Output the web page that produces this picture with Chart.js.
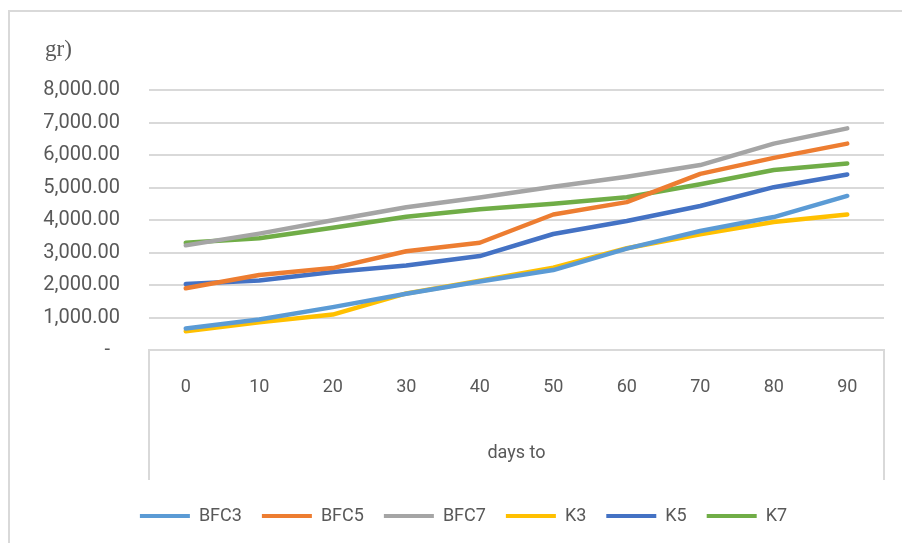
<!DOCTYPE html>
<html>
<head>
<meta charset="utf-8">
<title>Weight by days</title>
<script src="https://cdn.jsdelivr.net/npm/chart.js@4/dist/chart.umd.min.js"></script>
<style>
    html, body {
        margin: 0;
        padding: 0;
        background: #ffffff;
        overflow: hidden;
    }
    .frame {
        position: absolute;
        left: 8px;
        top: 10px;
        width: 1000px;
        height: 700px;
        border-left: 2px solid #d9d9d9;
        border-top: 2px solid #d9d9d9;
    }
    .chart-wrap {
        position: absolute;
        left: 0;
        top: 0;
        width: 902px;
        height: 543px;
    }
</style>
</head>
<body>
<div class="frame"></div>
<div class="chart-wrap">
    <canvas id="growthChart"></canvas>
</div>
<script>
// Chart data
const days = ['0', '10', '20', '30', '40', '50', '60', '70', '80', '90'];
const bfc3 = [660, 940, 1320, 1730, 2110, 2460, 3120, 3660, 4090, 4740];
const bfc5 = [1900, 2310, 2520, 3040, 3300, 4170, 4550, 5420, 5910, 6350];
const bfc7 = [3220, 3580, 3990, 4390, 4690, 5020, 5330, 5690, 6350, 6820];
const k3 = [580, 850, 1090, 1740, 2130, 2530, 3130, 3560, 3940, 4170];
const k5 = [2030, 2140, 2400, 2600, 2890, 3570, 3970, 4430, 5010, 5400];
const k7 = [3300, 3440, 3760, 4100, 4330, 4500, 4700, 5100, 5540, 5740];
const yTicks = [0, 1000, 2000, 3000, 4000, 5000, 6000, 7000, 8000];

const textColor = '#595959';
const gridColor = '#d9d9d9';

// Simple helper for each line
function series(label, data, color) {
    return {
        label: label,
        data: data,
        borderColor: color,
        backgroundColor: color,
        borderWidth: 4.5,
        borderCapStyle: 'round',
        borderJoinStyle: 'round',
        pointRadius: 0,
        tension: 0
    };
}

// Axis title "gr)" above the value labels
const unitLabel = {
    id: 'unitLabel',
    afterDraw(chart) {
        const ctx = chart.ctx;
        ctx.save();
        ctx.font = '23px "Liberation Serif", "Times New Roman", serif';
        ctx.fillStyle = textColor;
        ctx.textBaseline = 'middle';
        ctx.textAlign = 'left';
        ctx.fillText('gr)', 45, 50);
        ctx.restore();
    }
};

// Box round the category labels
const categoryBox = {
    id: 'categoryBox',
    beforeDatasetsDraw(chart) {
        const ctx = chart.ctx;
        const area = chart.chartArea;
        ctx.save();
        ctx.strokeStyle = gridColor;
        ctx.lineWidth = 2;
        ctx.beginPath();
        ctx.moveTo(area.left, area.bottom);
        ctx.lineTo(area.left, area.bottom + 130);
        ctx.moveTo(area.right, area.bottom);
        ctx.lineTo(area.right, area.bottom + 130);
        ctx.stroke();
        ctx.restore();
    }
};

document.addEventListener('DOMContentLoaded', function() {
    const ctx = document.getElementById('growthChart');

    new Chart(ctx, {
        type: 'line',
        data: {
            labels: days,
            datasets: [
                series('BFC3', bfc3, '#5B9BD5'),
                series('BFC5', bfc5, '#ED7D31'),
                series('BFC7', bfc7, '#A5A5A5'),
                series('K3', k3, '#FFC000'),
                series('K5', k5, '#4472C4'),
                series('K7', k7, '#70AD47')
            ]
        },
        options: {
            responsive: true,
            maintainAspectRatio: false,
            animation: false,
            layout: {
                padding: { left: 43, right: 18, top: 90, bottom: 8 }
            },
            plugins: {
                title: { display: false },
                tooltip: { enabled: false },
                legend: {
                    position: 'bottom',
                    labels: {
                        boxWidth: 50,
                        boxHeight: 4,
                        padding: 20,
                        color: textColor,
                        font: { size: 18, family: 'Roboto' },
                        generateLabels: function(chart) {
                            return chart.data.datasets.map((ds, i) => ({
                                text: ds.label,
                                fillStyle: ds.borderColor,
                                strokeStyle: ds.borderColor,
                                lineWidth: 0,
                                fontColor: textColor,
                                hidden: false,
                                datasetIndex: i
                            }));
                        }
                    }
                }
            },
            scales: {
                x: {
                    offset: true,
                    afterFit: function(scale) { scale.height = 137; },
                    border: { display: true, color: gridColor, width: 2 },
                    grid: { display: false, drawTicks: false },
                    ticks: {
                        padding: 27,
                        maxRotation: 0,
                        color: textColor,
                        font: { size: 18, family: 'Roboto' }
                    },
                    title: {
                        display: true,
                        text: 'days to',
                        color: textColor,
                        padding: { top: 4, bottom: 23 },
                        font: { size: 18, family: 'Roboto' }
                    }
                },
                y: {
                    min: 0,
                    max: 8000,
                    afterFit: function(scale) { scale.width = 106; },
                    afterBuildTicks: function(scale) {
                        scale.ticks = yTicks.map(v => ({ value: v }));
                    },
                    border: { display: false },
                    grid: { color: gridColor, lineWidth: 2, drawTicks: false },
                    ticks: {
                        padding: 29,
                        color: textColor,
                        font: { size: 20, family: 'Roboto' },
                        callback: function(value) {
                            if (value === 0) return '-  ';
                            return value.toLocaleString('en-US', { minimumFractionDigits: 2, maximumFractionDigits: 2 });
                        }
                    }
                }
            }
        },
        plugins: [unitLabel, categoryBox]
    });
});
</script>
</body>
</html>
